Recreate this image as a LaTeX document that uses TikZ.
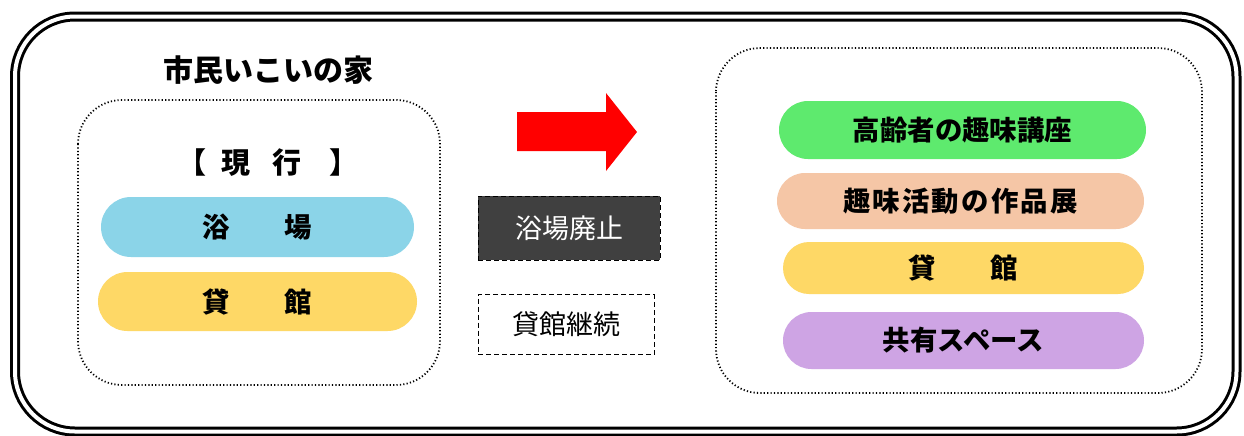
\documentclass[tikz,border=0pt]{standalone}
\usepackage{fontspec}
\setmainfont{Noto Sans CJK JP}
\definecolor{pblue}{HTML}{8BD4E8}
\definecolor{pyellow}{HTML}{FED866}
\definecolor{pgreen}{HTML}{5EEA6E}
\definecolor{ppeach}{HTML}{F5C6A6}
\definecolor{ppurple}{HTML}{CEA4E4}
\definecolor{pdark}{HTML}{404040}
\tikzset{
  frame/.style={draw=black, line width=1.5pt, double=white, double distance=2pt, rounded corners=30pt},
  dotbox/.style={draw=black, line width=0.9pt, dash pattern=on 0.6pt off 1.1pt, rounded corners=22pt},
  pill/.style={draw=none, inner sep=0pt, font=\fontsize{13.7pt}{16pt}\selectfont\bfseries},
  tagbox/.style={draw=black, line width=0.5pt, dash pattern=on 2.5pt off 1.5pt, inner sep=0pt, font=\fontsize{13.5pt}{16pt}\selectfont},
  heading/.style={inner sep=0pt, font=\fontsize{15pt}{18pt}\selectfont\bfseries}
}
\begin{document}
\begin{tikzpicture}[x=0.5pt,y=-0.5pt]
\useasboundingbox (0,0) rectangle (1244,435);
\fill[white] (0,0) rectangle (1244,435);
% outer double frame
\draw[frame] (15,16.5) rectangle (1236.5,431.5);
% dotted containers
\draw[dotbox] (78,100) rectangle (440,385);
\draw[dotbox] (716,48) rectangle (1202,393);
% title
\node[heading] (title) at (268,70) {市民いこいの家};
\node[heading, font=\fontsize{14.5pt}{18pt}\selectfont\bfseries] (current) at (268,163) {【\hspace{8pt}現\hspace{11pt}行\hspace{14pt}】};
% left pills
\node[pill, fill=pblue, minimum width=156.5pt, minimum height=30pt, rounded corners=15pt] (bath) at (257.5,227) {浴　　場};
\node[pill, fill=pyellow, minimum width=159.5pt, minimum height=29.5pt, rounded corners=14.75pt] (hall) at (257.5,301.5) {貸　　館};
% red arrow
\fill[red] (517,112) -- (606,112) -- (606,93) -- (637,132) -- (606,171) -- (606,151) -- (517,151) -- cycle;
% middle tags
\node[tagbox, fill=pdark, text=white, minimum width=91pt, minimum height=32pt] (abolish) at (569,228) {浴場廃止};
\node[tagbox, fill=white, minimum width=88pt, minimum height=30pt] (keep) at (566,324.5) {貸館継続};
% right pills
\node[pill, fill=pgreen, minimum width=183.5pt, minimum height=29pt, rounded corners=14.5pt] (r1) at (962.5,130) {高齢者の趣味講座};
\node[pill, fill=ppeach, minimum width=183.5pt, minimum height=28pt, rounded corners=14pt] (r2) at (960.5,201) {\addfontfeature{LetterSpace=8}趣味活動の作品展};
\node[pill, fill=pyellow, minimum width=180.5pt, minimum height=26pt, rounded corners=13pt] (r3) at (963.5,268) {貸　　館};
\node[pill, fill=ppurple, minimum width=180.5pt, minimum height=28.5pt, rounded corners=14.25pt] (r4) at (963.5,340.5) {共有スペース};
\end{tikzpicture}
\end{document}
